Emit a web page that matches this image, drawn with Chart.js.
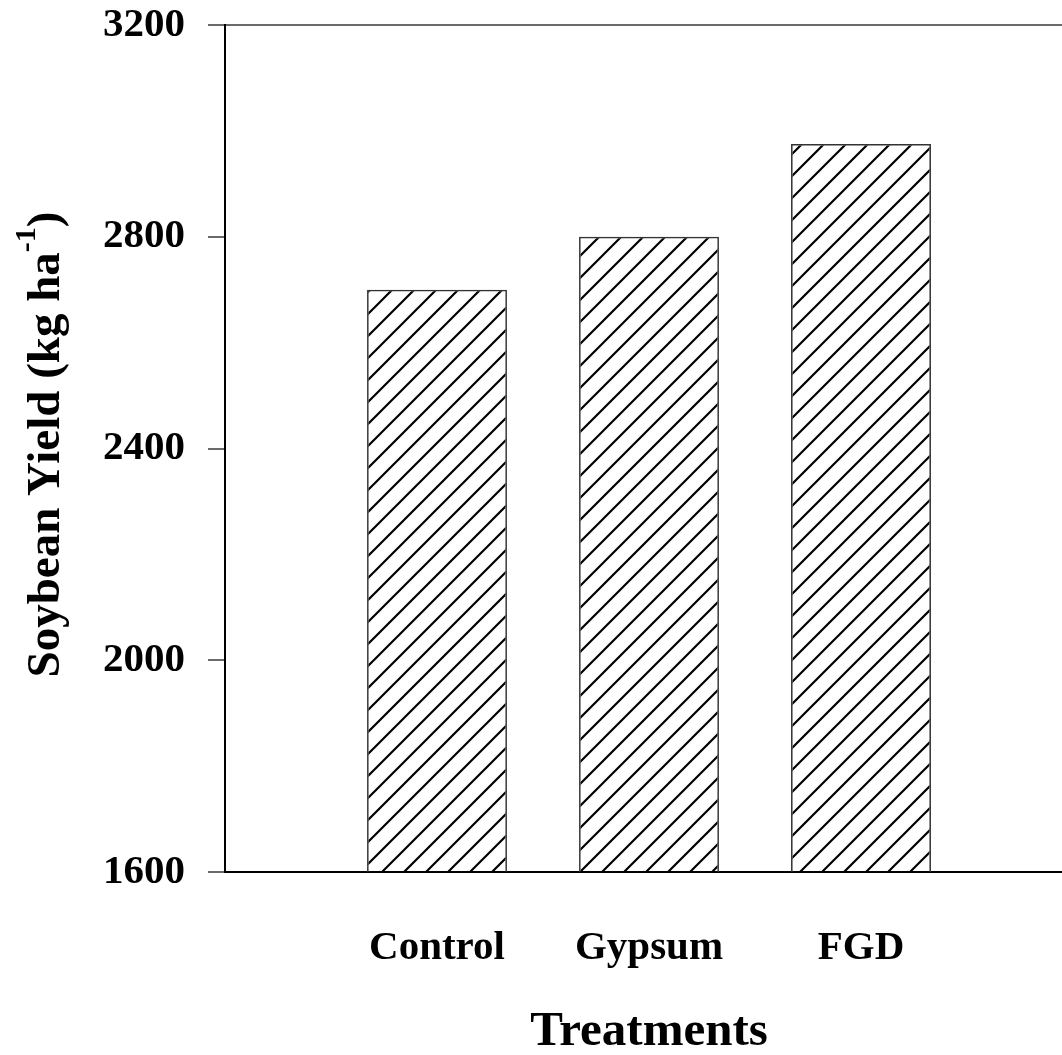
<!DOCTYPE html>
<html>
<head>
<meta charset="utf-8">
<script src="https://cdn.jsdelivr.net/npm/chart.js@4.4.1/dist/chart.umd.min.js"></script>
<style>
  html, body { margin: 0; padding: 0; background: #fff; overflow: hidden; }
  #wrap { width: 1073px; height: 1055px; }
</style>
</head>
<body>
<div id="wrap"><canvas id="yield-chart" width="1073" height="1055"></canvas></div>
<script>
// empty slots at both ends so the three bars sit at 1/4, 2/4, 3/4 of the axis
const categories = ["", "Control", "Gypsum", "FGD", ""];
const yieldValues = [null, 2700, 2800, 2975, null];
const yTicks = [1600, 2000, 2400, 2800, 3200];

const serif = "'Liberation Serif', 'Times New Roman', serif";

function hatchPattern() {
  const size = 22;
  const tile = document.createElement("canvas");
  tile.width = size;
  tile.height = size;
  const c = tile.getContext("2d");
  c.strokeStyle = "#000";
  c.lineWidth = 2.2;
  c.beginPath();
  c.moveTo(-2, size + 2);
  c.lineTo(size + 2, -2);
  c.moveTo(-2, 2);
  c.lineTo(2, -2);
  c.moveTo(size - 2, size + 2);
  c.lineTo(size + 2, size - 2);
  c.stroke();
  return document.getElementById("yield-chart").getContext("2d").createPattern(tile, "repeat");
}

const yTitlePlugin = {
  id: "yTitle",
  afterDraw(chart) {
    const ctx = chart.ctx;
    const area = chart.chartArea;
    const big = "bold 47px " + serif;
    const small = "bold 30px " + serif;
    const parts = [
      { text: "Soybean Yield (kg ha", font: big, dy: 0 },
      { text: "-1", font: small, dy: -20 },
      { text: ")", font: big, dy: 0 },
    ];
    ctx.save();
    let total = 0;
    parts.forEach((p) => {
      ctx.font = p.font;
      p.w = ctx.measureText(p.text).width;
      total += p.w;
    });
    ctx.translate(47, (area.top + area.bottom) / 2 - 4);
    ctx.rotate(-Math.PI / 2);
    ctx.fillStyle = "#000";
    ctx.textBaseline = "middle";
    let x = -total / 2;
    parts.forEach((p) => {
      ctx.font = p.font;
      ctx.fillText(p.text, x, p.dy);
      x += p.w;
    });
    ctx.restore();
  },
};

new Chart(document.getElementById("yield-chart"), {
  type: "bar",
  data: {
    labels: categories,
    datasets: [
      {
        data: yieldValues,
        backgroundColor: hatchPattern(),
        borderColor: "#333",
        borderWidth: 1.5,
        categoryPercentage: 1,
        barPercentage: 0.66,
      },
    ],
  },
  options: {
    responsive: false,
    animation: false,
    layout: { padding: { top: 25, right: 0, bottom: 0, left: 0 } },
    plugins: {
      legend: { display: false },
      tooltip: { enabled: false },
    },
    scales: {
      x: {
        offset: false,
        grid: { display: false },
        border: { display: true, color: "#000", width: 2 },
        ticks: {
          autoSkip: false,
          maxRotation: 0,
          padding: 44,
          color: "#000",
          font: { family: serif, size: 41, weight: "bold" },
        },
        title: {
          display: true,
          text: "Treatments",
          color: "#000",
          padding: { top: 50, bottom: -7 },
          font: { family: serif, size: 49, weight: "bold" },
        },
        afterFit: (scale) => {
          scale.height = 183;
          scale.paddingLeft = 0;
          scale.paddingRight = 0;
        },
      },
      y: {
        min: 1600,
        max: 3200,
        afterBuildTicks: (scale) => {
          scale.ticks = yTicks.map((v) => ({ value: v }));
        },
        grid: {
          drawOnChartArea: true,
          tickLength: 17,
          lineWidth: 2,
          tickColor: "#6a6a6a",
          color: (ctx) =>
            ctx.tick && (ctx.tick.value === 3200 || ctx.tick.value === 1600)
              ? "#6a6a6a"
              : "rgba(0,0,0,0)",
        },
        border: { display: true, color: "#000", width: 2 },
        ticks: {
          padding: 23,
          color: "#000",
          callback: (value) => String(value),
          font: { family: serif, size: 41, weight: "bold" },
        },
        afterFit: (scale) => {
          scale.width = 225;
          scale.paddingTop = 0;
          scale.paddingBottom = 0;
        },
      },
    },
  },
  plugins: [yTitlePlugin],
});
</script>
</body>
</html>
